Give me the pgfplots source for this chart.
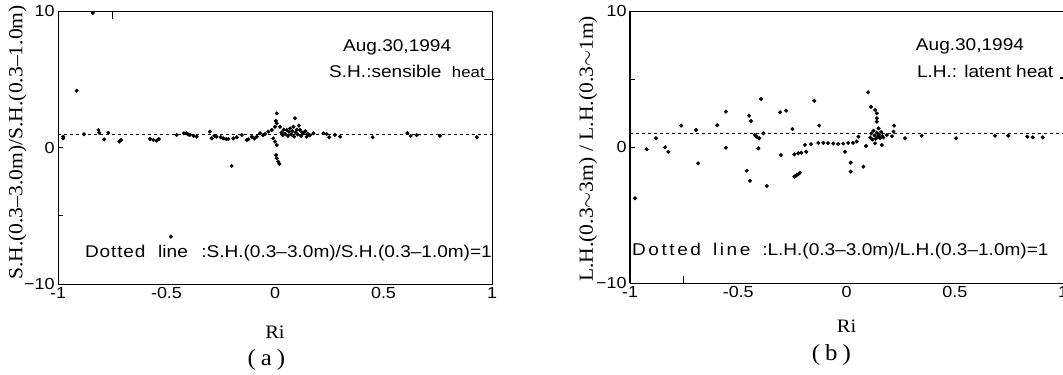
\documentclass[border=0pt]{standalone}
\usepackage{pgfplots}
\pgfplotsset{compat=1.18}
\usepackage{fontspec}
\setmainfont{Liberation Sans}[FakeStretch=1.12]
\newfontfamily\lserif{Liberation Serif}[FakeStretch=1.08]
\newcommand{\fs}[1]{\fontsize{#1}{#1}\selectfont}

\pgfplotstableread{
x y
-0.976 0.79
-0.976 0.67
-0.914 4.16
-0.84 9.85
-0.88 0.97
-0.814 1.28
-0.81 1.08
-0.787 0.60
-0.768 1.08
-0.717 0.43
-0.71 0.55
-0.576 0.62
-0.560 0.55
-0.545 0.50
-0.535 0.62
-0.48 -6.53
-0.453 0.92
-0.42 1.04
-0.407 1.04
-0.40 0.95
-0.392 0.92
-0.375 0.85
-0.361 0.79
-0.30 1.16
-0.292 0.67
-0.28 0.85
-0.269 0.79
-0.25 0.75
-0.238 0.67
-0.225 0.62
-0.215 0.62
-0.20 -1.36
-0.192 0.67
-0.176 0.75
-0.153 0.92
-0.13 0.55
-0.123 0.60
-0.107 0.79
-0.095 0.65
-0.084 0.79
-0.069 1.04
-0.055 0.90
-0.046 0.99
-0.031 1.16
-0.015 1.28
0.000 1.52
0.008 2.50
0.008 1.77
0.004 1.95
-0.008 0.67
0.000 0.43
0.008 0.18
0.005 -0.55
0.008 -0.79
0.015 -1.04
0.02 -1.2
0.023 1.52
0.03 1.10
0.035 0.9
0.040 1.30
0.047 1.0
0.054 1.28
0.06 0.85
0.065 1.15
0.07 1.4
0.075 0.95
0.08 1.2
0.085 1.52
0.088 0.8
0.092 2.14
0.095 1.1
0.100 1.3
0.105 0.95
0.110 1.6
0.115 1.28
0.12 0.85
0.125 1.1
0.13 1.04
0.14 1.2
0.146 0.79
0.15 1.0
0.16 0.9
0.177 1.04
0.223 1.04
0.238 0.99
0.25 0.75
0.276 0.92
0.30 0.79
0.45 0.75
0.61 1.05
0.625 0.85
0.653 0.90
0.76 0.85
0.93 0.75
}\tableSH

\pgfplotstableread{
x y
-0.977 -3.77
-0.923 -0.17
-0.88 0.64
-0.838 -0.02
-0.823 -0.35
-0.764 1.57
-0.695 1.25
-0.685 -1.2
-0.597 1.6
-0.557 -0.05
-0.557 2.6
-0.45 2.3
-0.441 1.91
-0.461 -1.74
-0.446 -2.48
-0.423 0.88
-0.415 0.76
-0.403 0.64
-0.407 -0.1
-0.395 3.53
-0.384 1.0
-0.368 -2.87
-0.303 -0.59
-0.307 2.55
-0.279 2.67
-0.25 1.32
-0.241 -2.18
-0.235 -2.12
-0.23 -2.06
-0.222 -2.0
-0.215 -1.89
-0.241 -0.54
-0.223 -0.46
-0.209 -0.42
-0.186 -0.35
-0.192 0.15
-0.164 0.20
-0.149 3.40
-0.126 1.57
-0.13 0.30
-0.107 0.30
-0.085 0.28
-0.061 0.25
-0.038 0.22
-0.015 0.25
0.008 0.30
0.030 0.30
0.047 0.40
0.055 0.76
-0.007 -0.35
0.019 -1.15
0.019 -1.81
0.078 -1.45
0.09 0.07
0.10 4.02
0.113 2.96
0.132 2.72
0.14 2.48
0.14 2.11
0.14 1.86
0.148 1.37
0.11 0.7
0.115 1.0
0.12 0.55
0.125 1.2
0.13 0.85
0.135 0.6
0.14 1.05
0.145 0.75
0.15 0.9
0.155 0.65
0.16 1.1
0.165 0.8
0.17 0.7
0.132 0.27
0.163 0.15
0.186 0.88
0.21 0.80
0.22 1.57
0.217 1.13
0.27 0.64
0.347 0.83
0.506 0.64
0.686 0.83
0.747 0.83
0.835 0.76
0.86 0.71
0.906 0.71
}\tableLH

\pgfplotsset{
  panel/.style={
    scale only axis, anchor=south west, clip=false,
    xmin=-1, xmax=1, ymin=-10, ymax=10,
    xtick={-1,-0.5,0,0.5,1}, xticklabels={-1,-0.5,0,0.5,1},
    ytick={-10,0,10}, yticklabels={−10,0,10},
    tick label style={font=\fs{16bp}},
    xtick style={draw=none},
    ytick style={black, line width=0.7bp},
    tick align=inside, tick pos=left,
    major tick length=5bp,
    axis line style={black, line width=0.9bp},
  },
  pts/.style={only marks, mark=*, black, mark size=1.8bp},
  dotline/.style={black, line width=0.6bp, dash pattern=on 3bp off 3bp},
}

\begin{document}
\begin{tikzpicture}
\useasboundingbox (0,0) rectangle (1063bp,375bp);

% ---------- (a)
\begin{axis}[panel, at={(58bp,91bp)}, width=434bp, height=273bp]
\addplot[dotline] coordinates {(-1,1) (1,1)};
\addplot[pts] table[x=x,y=y] {\tableSH};
\draw[line width=0.7bp] (axis cs:-0.75,10) -- (axis cs:-0.75,9.45);
\draw[line width=0.7bp] (axis cs:-1,-5) -- (axis cs:-0.975,-5);
\node[anchor=base west, inner sep=0pt] at (axis cs:0.313,7.0) {\fs{17bp}Aug.30,1994};
\node[anchor=base west, inner sep=0pt] at (axis cs:0.249,5.16) {\fs{17bp}S.H.:sensible\ \ {\fs{15bp}heat\_}};
\node[anchor=base west, inner sep=0pt] at (axis cs:-0.876,-8.04) {\fs{17bp}\addfontfeature{LetterSpace=5}Dotted};
\node[anchor=base west, inner sep=0pt] at (axis cs:-0.539,-8.04) {\fs{17bp}line};
\node[anchor=base east, inner sep=0pt] at (axis cs:1.0,-8.04) {\fs{17bp}:S.H.(0.3–3.0m)/S.H.(0.3–1.0m)=1};
\node[rotate=90] at (rel axis cs:-0.093,0.518) {\lserif\fs{20bp}S.H.(0.3–3.0m)/S.H.(0.3–1.0m)};
\node[inner sep=0pt] at (rel axis cs:0.5,-0.178) {\lserif\fs{19bp}Ri};
\node[inner sep=0pt] at (rel axis cs:0.48,-0.278) {\lserif\fs{23bp}(\hspace{5bp}a\hspace{5bp})};
\end{axis}

% ---------- (b)
\begin{axis}[panel, at={(630bp,92bp)}, width=433bp, height=272bp]
\addplot[dotline] coordinates {(-1,1) (1,1)};
\addplot[pts] table[x=x,y=y] {\tableLH};
\draw[line width=1.6bp] (axis cs:-1,-10) -- (axis cs:-1,10);
\draw[line width=0.7bp] (axis cs:-0.755,-10) -- (axis cs:-0.755,-9.5);
\draw[line width=0.7bp] (axis cs:-1,5) -- (axis cs:-0.975,5);
\node[anchor=base west, inner sep=0pt] at (axis cs:0.32,7.08) {\fs{17bp}Aug.30,1994};
\node[anchor=base west, inner sep=0pt] at (axis cs:0.325,5.1) {\fs{17bp}L.H.: latent heat\hspace{7bp}\rule[-1.5bp]{6bp}{2bp}};
\node[anchor=base west, inner sep=0pt] at (axis cs:-0.991,-8.0) {\fs{17bp}\addfontfeature{LetterSpace=15}Dotted};
\node[anchor=base west, inner sep=0pt] at (axis cs:-0.617,-8.0) {\fs{17bp}\addfontfeature{LetterSpace=15}line};
\node[anchor=base west, inner sep=0pt] at (axis cs:-0.39,-8.0) {\fs{17bp}:L.H.(0.3–3.0m)/L.H.(0.3–1.0m)=1};
\node[rotate=90] at (rel axis cs:-0.097,0.493) {\lserif\fs{20bp}L.H.(0.3$\sim$3m) / L.H.(0.3$\sim$1m)};
\node[inner sep=0pt] at (rel axis cs:0.5,-0.16) {\lserif\fs{19bp}Ri};
\node[inner sep=0pt] at (rel axis cs:0.465,-0.265) {\lserif\fs{23bp}(\hspace{5bp}b\hspace{5bp})};
\end{axis}
\end{tikzpicture}
\end{document}
